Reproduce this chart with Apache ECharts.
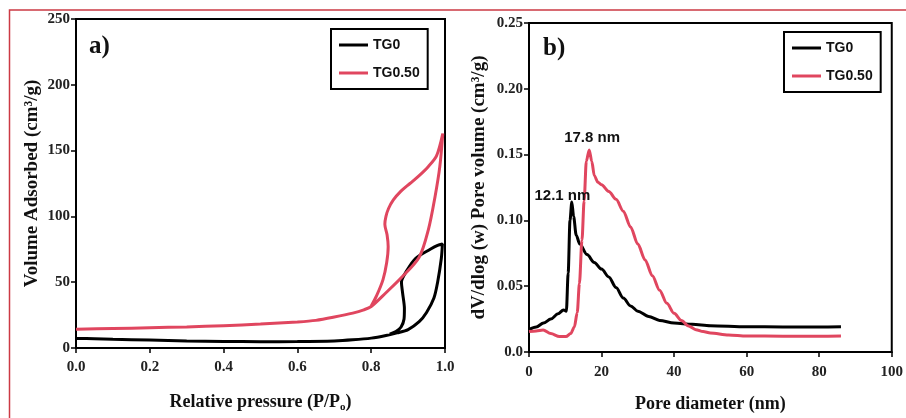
<!DOCTYPE html>
<html>
<head>
<meta charset="utf-8">
<script src="https://cdn.jsdelivr.net/npm/echarts@6/dist/echarts.min.js"></script>
<style>
  html, body { margin: 0; padding: 0; background: #fff; }
  #chart { width: 906px; height: 418px; }
</style>
</head>
<body>
<div id="chart"></div>
<script>
// a) isotherms, each loop = adsorption branch followed by desorption branch
const tg0P = [0, 0.05, 0.1, 0.2, 0.3, 0.4, 0.5, 0.6, 0.7, 0.75, 0.8, 0.84, 0.87, 0.9, 0.93, 0.95, 0.97, 0.98, 0.99, 0.993,
  0.98, 0.96, 0.92, 0.897, 0.882, 0.885, 0.89, 0.889, 0.881, 0.867, 0.85]
const tg0V = [7.3, 7.0, 6.6, 6.0, 5.4, 5.0, 4.8, 4.9, 5.4, 6.2, 7.5, 9.5, 11.5, 14, 20, 27, 38, 50, 68, 79,
  78, 75, 68, 59, 50, 42, 30, 22, 16, 12.5, 10.5]
const tg50P = [0, 0.1, 0.2, 0.3, 0.4, 0.5, 0.6, 0.65, 0.7, 0.75, 0.78, 0.8, 0.84, 0.88, 0.93, 0.955, 0.973, 0.986, 0.994,
  0.977, 0.955, 0.93, 0.905, 0.88, 0.86, 0.847, 0.84, 0.837, 0.843, 0.846, 0.842, 0.832, 0.815, 0.8]
const tg50V = [14.2, 14.8, 15.4, 16.0, 17.0, 18.2, 19.8, 21, 23.5, 26.5, 29, 31.5, 42, 53, 69, 90, 115, 138, 163,
  146, 138, 131, 125, 119, 112.5, 106, 100, 94, 86, 77, 65, 52, 40, 32]

// b) pore size distribution
const tg0D = [0, 2, 4, 6, 8, 9.5, 10.3, 10.8, 11.3, 11.8, 12.3, 13, 14, 16, 18, 20, 22, 24, 26, 28, 30, 33, 36, 40, 45, 50, 60, 70, 80, 86]
const tg0W = [0.017, 0.019, 0.022, 0.025, 0.029, 0.032, 0.031, 0.06, 0.1, 0.114, 0.103, 0.089, 0.082, 0.074, 0.068, 0.063, 0.057,
  0.049, 0.041, 0.035, 0.031, 0.027, 0.024, 0.022, 0.021, 0.020, 0.0192, 0.019, 0.019, 0.0192]
const tg50D = [0, 2, 3.9, 6, 8.4, 10.2, 11.5, 12.5, 13.3, 13.9, 14.6, 15.2, 15.8, 16.6, 17.3, 18, 19, 20, 22, 24, 26, 28, 30, 32,
  34, 36, 38, 40, 42, 44, 46, 48, 50, 55, 60, 70, 80, 86]
const tg50W = [0.0155, 0.016, 0.0167, 0.014, 0.0117, 0.0117, 0.014, 0.019, 0.03, 0.052, 0.085, 0.115, 0.145, 0.1535, 0.145,
  0.134, 0.129, 0.127, 0.122, 0.116, 0.107, 0.095, 0.082, 0.07, 0.058, 0.047, 0.037, 0.0294, 0.024, 0.0198, 0.017, 0.0155,
  0.0145, 0.013, 0.0122, 0.012, 0.012, 0.0122]

const xTicksA = ['0.0', '0.2', '0.4', '0.6', '0.8', '1.0']
const yTicksB = ['0.0', '0.05', '0.10', '0.15', '0.20', '0.25']

const BLACK = '#000000'
const RED = '#e0465f'
const serif = 'Liberation Serif'
const sans = 'Liberation Sans'

function pairs(xs, ys) {
  return xs.map((x, i) => [x, ys[i]])
}

const tickLabel = { fontFamily: serif, fontWeight: 'bold', fontSize: 15, color: '#222' }
const axisLine = { lineStyle: { color: BLACK, width: 2 } }
const axisTick = { inside: false, length: 5, lineStyle: { color: BLACK, width: 1.5 } }

function nameStyle(size) {
  return {
    fontFamily: serif, fontWeight: 'bold', fontSize: size, color: '#111',
    rich: { sub: { fontFamily: serif, fontWeight: 'bold', fontSize: 11, color: '#111', padding: [10, 0, 0, 0] } }
  }
}

function legend(left, top) {
  return {
    orient: 'vertical',
    left: left,
    top: top,
    data: ['TG0', 'TG0.50'],
    icon: 'rect',
    itemWidth: 29,
    itemHeight: 3,
    itemGap: 14,
    padding: [9, 8, 9, 8],
    borderColor: BLACK,
    borderWidth: 2,
    textStyle: { fontFamily: sans, fontWeight: 'bold', fontSize: 14, color: '#111' }
  }
}

const chart = echarts.init(document.getElementById('chart'), null, { renderer: 'canvas' })

chart.setOption({
  backgroundColor: '#fff',
  animation: false,
  color: [BLACK, RED],
  legend: [legend(331, 29), legend(784, 32)],
  grid: [
    { left: 76, top: 19, width: 369, height: 329, show: true, borderColor: BLACK, borderWidth: 2 },
    { left: 529, top: 23, width: 368, height: 329, show: true, borderColor: BLACK, borderWidth: 2 }
  ],
  xAxis: [
    {
      gridIndex: 0, type: 'value', min: 0, max: 1, interval: 0.2,
      name: 'Relative pressure (P/P{sub|o})', nameLocation: 'middle', nameGap: 44, nameTextStyle: nameStyle(18),
      axisLine: axisLine, axisTick: axisTick, splitLine: { show: false },
      axisLabel: Object.assign({}, tickLabel, { margin: 12, formatter: (v) => xTicksA[Math.round(v / 0.2)] })
    },
    {
      gridIndex: 1, type: 'value', min: 0, max: 100, interval: 20,
      name: 'Pore diameter (nm)', nameLocation: 'middle', nameGap: 43, nameTextStyle: nameStyle(18),
      axisLine: axisLine, axisTick: axisTick, splitLine: { show: false },
      axisLabel: Object.assign({}, tickLabel, { margin: 13 })
    }
  ],
  yAxis: [
    {
      gridIndex: 0, type: 'value', min: 0, max: 250, interval: 50,
      name: 'Volume Adsorbed (cm³/g)', nameLocation: 'middle', nameGap: 34, nameTextStyle: nameStyle(19),
      axisLine: axisLine, axisTick: axisTick, splitLine: { show: false },
      axisLabel: Object.assign({}, tickLabel, { margin: 6 })
    },
    {
      gridIndex: 1, type: 'value', min: 0, max: 0.25, interval: 0.05,
      name: 'dV/dlog (w) Pore volume (cm³/g)', nameLocation: 'middle', nameGap: 40, nameTextStyle: nameStyle(19),
      axisLine: axisLine, axisTick: axisTick, splitLine: { show: false },
      axisLabel: Object.assign({}, tickLabel, { margin: 6, formatter: (v) => yTicksB[Math.round(v / 0.05)] })
    }
  ],
  graphic: [
    { type: 'rect', silent: true, shape: { x: 9.5, y: 10, width: 910, height: 420 },
      style: { fill: 'none', stroke: '#cc3a44', lineWidth: 1.5 } },
    { type: 'text', left: 89, top: 34, style: { text: 'a)', font: 'bold 25px "Liberation Serif"', fill: '#111' } },
    { type: 'text', left: 543, top: 36, style: { text: 'b)', font: 'bold 25px "Liberation Serif"', fill: '#111' } }
  ],
  series: [
    {
      name: 'TG0', type: 'line', xAxisIndex: 0, yAxisIndex: 0, showSymbol: false, smooth: 0.3,
      lineStyle: { color: BLACK, width: 3 }, itemStyle: { color: BLACK },
      data: pairs(tg0P, tg0V)
    },
    {
      name: 'TG0.50', type: 'line', xAxisIndex: 0, yAxisIndex: 0, showSymbol: false, smooth: 0.3,
      lineStyle: { color: RED, width: 3 }, itemStyle: { color: RED },
      data: pairs(tg50P, tg50V)
    },
    {
      name: 'TG0', type: 'line', xAxisIndex: 1, yAxisIndex: 1, showSymbol: false, smooth: 0.3, smoothMonotone: 'x',
      lineStyle: { color: BLACK, width: 3 }, itemStyle: { color: BLACK },
      data: pairs(tg0D, tg0W),
      markPoint: {
        symbol: 'circle', symbolSize: 0, silent: true,
        label: { show: true, position: 'inside', fontFamily: sans, fontWeight: 'bold', fontSize: 15, color: '#111', formatter: '12.1 nm' },
        data: [{ coord: [9.2, 0.119] }]
      }
    },
    {
      name: 'TG0.50', type: 'line', xAxisIndex: 1, yAxisIndex: 1, showSymbol: false, smooth: 0.3, smoothMonotone: 'x',
      lineStyle: { color: RED, width: 3 }, itemStyle: { color: RED },
      data: pairs(tg50D, tg50W),
      markPoint: {
        symbol: 'circle', symbolSize: 0, silent: true,
        label: { show: true, position: 'inside', fontFamily: sans, fontWeight: 'bold', fontSize: 15, color: '#111', formatter: '17.8 nm' },
        data: [{ coord: [17.4, 0.1626] }]
      }
    }
  ]
})
</script>
</body>
</html>
